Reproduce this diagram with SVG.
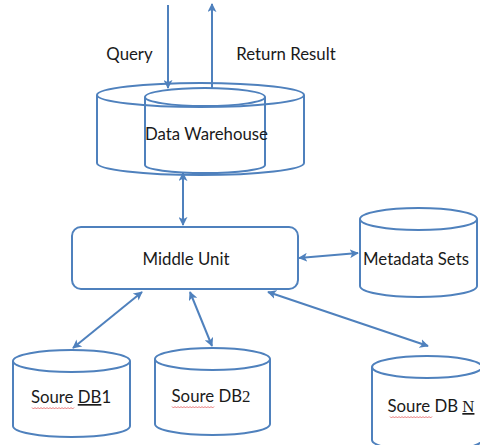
<svg xmlns="http://www.w3.org/2000/svg" width="480" height="445" viewBox="0 0 480 445">
<defs>
<marker id="ah" viewBox="0 0 10 10" refX="9" refY="5" markerWidth="4.5" markerHeight="4.5" orient="auto-start-reverse" markerUnits="strokeWidth">
<path d="M0,0 L10,5 L0,10 L2.5,5 z" fill="#4F81BD"/>
</marker>
</defs>
<style>
.s{fill:none;stroke:#4F81BD;stroke-width:2}
.c{fill:none;stroke:#4F81BD;stroke-width:2;marker-end:url(#ah)}
.d{fill:none;stroke:#4F81BD;stroke-width:2;marker-start:url(#ah);marker-end:url(#ah)}
.t{font-family:Lato,"Liberation Sans",sans-serif;font-size:16.8px;fill:#1a1a1a;text-anchor:middle}
.w{fill:none;stroke:#e04040;stroke-width:0.7}
</style>
<rect width="480" height="445" fill="#fff"/>
<g id="labels">
<text class="t" x="129.5" y="60">Query</text>
<text class="t" x="286" y="60">Return Result</text>
</g>
<g id="warehouse">
<ellipse class="s" cx="200.5" cy="95" rx="103.5" ry="12"/>
<path class="s" d="M97,95 L97,163 A103.5,12 0 0 0 304,163 L304,95"/>
<ellipse class="s" cx="205" cy="97" rx="60" ry="9"/>
<path class="s" d="M145,97 L145,165 A60,8 0 0 0 265,165 L265,97"/>
<text class="t" x="206.5" y="140">Data Warehouse</text>
</g>
<g id="middle">
<rect class="s" x="72" y="227" width="226" height="62" rx="9"/>
<text class="t" x="186" y="265">Middle Unit</text>
</g>
<g id="metadata">
<ellipse class="s" cx="418.5" cy="219" rx="58.5" ry="11"/>
<path class="s" d="M360,219 L360,286 A58.5,11 0 0 0 477,286 L477,219"/>
<text class="t" x="416" y="265">Metadata Sets</text>
</g>
<g id="db1">
<ellipse class="s" cx="71.5" cy="361" rx="58.5" ry="11"/>
<path class="s" d="M13,361 L13,426 A58.5,11 0 0 0 130,426 L130,361"/>
<text class="t" x="71" y="403">Soure <tspan text-decoration="underline">DB</tspan>1</text>
<path class="w" d="M32,407.5 l1.5,1.5 l1.5,-1.5 l1.5,1.5 l1.5,-1.5 l1.5,1.5 l1.5,-1.5 l1.5,1.5 l1.5,-1.5 l1.5,1.5 l1.5,-1.5 l1.5,1.5 l1.5,-1.5 l1.5,1.5 l1.5,-1.5 l1.5,1.5 l1.5,-1.5 l1.5,1.5 l1.5,-1.5 l1.5,1.5 l1.5,-1.5 l1.5,1.5 l1.5,-1.5 l1.5,1.5 l1.5,-1.5 l1.5,1.5 l1.5,-1.5 l1.5,1.5 l1.5,-1.5"/>
</g>
<g id="db2">
<ellipse class="s" cx="212.5" cy="359" rx="57.5" ry="11"/>
<path class="s" d="M155,359 L155,424 A57.5,11 0 0 0 270,424 L270,359"/>
<text class="t" x="211" y="402">Soure DB<tspan font-family="Liberation Serif,serif">2</tspan></text>
<path class="w" d="M172,406.5 l1.5,1.5 l1.5,-1.5 l1.5,1.5 l1.5,-1.5 l1.5,1.5 l1.5,-1.5 l1.5,1.5 l1.5,-1.5 l1.5,1.5 l1.5,-1.5 l1.5,1.5 l1.5,-1.5 l1.5,1.5 l1.5,-1.5 l1.5,1.5 l1.5,-1.5 l1.5,1.5 l1.5,-1.5 l1.5,1.5 l1.5,-1.5 l1.5,1.5 l1.5,-1.5 l1.5,1.5 l1.5,-1.5 l1.5,1.5 l1.5,-1.5 l1.5,1.5 l1.5,-1.5"/>
</g>
<g id="dbn">
<ellipse class="s" cx="427" cy="367" rx="55" ry="11"/>
<path class="s" d="M372,367 L372,440 A55,11 0 0 0 482,440 L482,367"/>
<text class="t" x="431" y="412">Soure DB <tspan font-family="Liberation Serif,serif" text-decoration="underline">N</tspan></text>
<path class="w" d="M390,416.5 l1.5,1.5 l1.5,-1.5 l1.5,1.5 l1.5,-1.5 l1.5,1.5 l1.5,-1.5 l1.5,1.5 l1.5,-1.5 l1.5,1.5 l1.5,-1.5 l1.5,1.5 l1.5,-1.5 l1.5,1.5 l1.5,-1.5 l1.5,1.5 l1.5,-1.5 l1.5,1.5 l1.5,-1.5 l1.5,1.5 l1.5,-1.5 l1.5,1.5 l1.5,-1.5 l1.5,1.5 l1.5,-1.5 l1.5,1.5 l1.5,-1.5 l1.5,1.5 l1.5,-1.5"/>
</g>
<g id="connectors">
<line class="c" x1="168" y1="5" x2="168" y2="88"/>
<line class="c" x1="212" y1="89" x2="212" y2="4"/>
<line class="d" x1="183" y1="173" x2="183" y2="225"/>
<line class="d" x1="299" y1="258" x2="358" y2="253"/>
<line class="d" x1="142" y1="292" x2="73" y2="348"/>
<line class="d" x1="190" y1="292" x2="212" y2="346"/>
<line class="d" x1="268" y1="292" x2="428" y2="346"/>
</g>
</svg>
